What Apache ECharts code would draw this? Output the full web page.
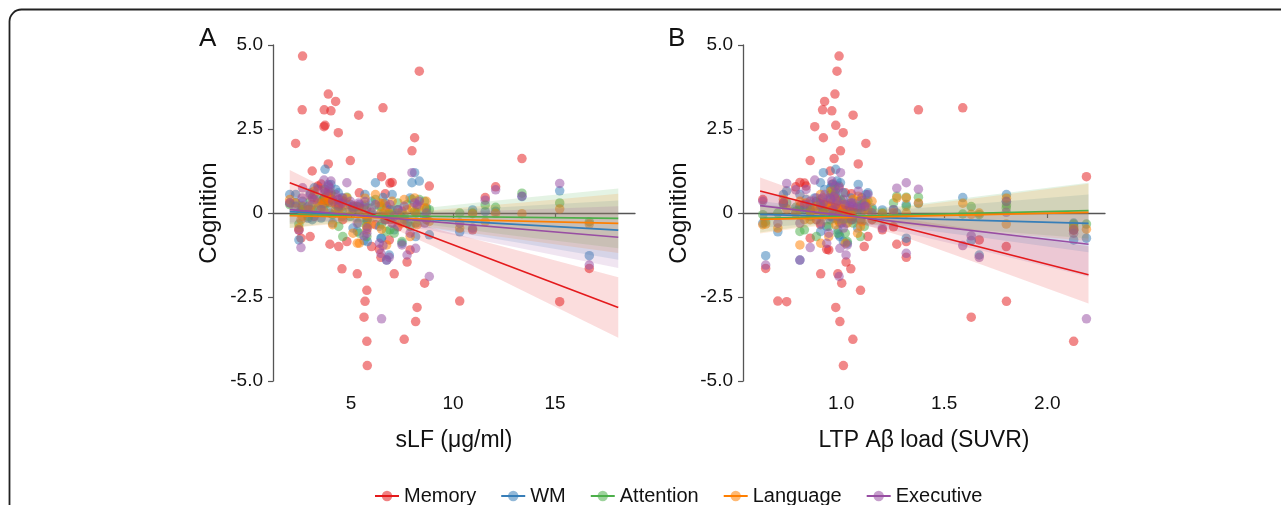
<!DOCTYPE html>
<html>
<head>
<meta charset="utf-8">
<script src="https://cdn.jsdelivr.net/npm/echarts@6/dist/echarts.min.js"></script>
<style>
html,body{margin:0;padding:0;background:#fff;}
#chart{width:1281px;height:505px;}
</style>
</head>
<body>
<div id="chart"></div>
<script>
// ---- Data (one entry per subject) ----
const slf = [2.63,8.35,3.89,4.25,6.57,2.61,3.69,4.02,5.38,3.73,3.68,4.38,8.12,2.29,7.99,13.38,4.97,3.89,3.10,6.50,
  6.91,7.02,8.84,12.09,11.58,3.38,3.54,5.41,6.68,2.45,2.55,3.97,4.40,4.56,5.31,5.78,5.69,5.64,5.78,5.80,
  6.01,6.39,6.47,7.12,7.75,7.61,8.17,8.24,8.61,10.33,15.23,16.68,6.88,7.90,3.00,4.80,7.30,10.96,2.00,2.90,
  4.60,5.10,6.20,7.50,8.70,4.10,6.75,3.20];
const suvr = [0.99,0.98,0.97,0.92,1.59,0.91,1.375,0.955,1.058,0.974,0.872,1.010,0.914,1.12,0.997,0.966,0.850,1.083,0.947,2.19,
  0.822,0.80,0.99,0.78,1.10,0.83,0.96,1.02,1.05,2.128,0.85,1.27,1.112,1.047,0.901,1.094,1.802,1.631,2.128,1.011,
  1.801,0.93,1.316,0.984,1.024,1.057,0.994,0.974,1.003,0.693,0.736,0.634,1.67,0.94,1.13,1.316,1.254,1.20,0.72,1.04,
  0.88,1.08,0.90,1.03,1.15,0.62,0.80,0.95];
const memory = [4.67,4.22,3.54,3.32,3.13,3.07,3.07,3.04,2.91,2.61,2.57,2.39,2.24,2.07,1.85,1.62,1.56,1.46,1.25,1.08,
  0.89,0.91,0.80,0.78,0.46,0.80,0.86,0.60,0.57,-0.51,-0.75,-0.93,-1.00,-1.66,-1.81,-2.30,-2.63,-3.10,-3.82,-4.54,
  -1.00,-1.08,-1.32,-1.81,-1.46,-3.76,-3.23,-2.81,-2.09,-2.62,-2.64,-1.65,-0.80,-1.10,-0.70,-0.85,-0.41,-0.50,0.30,0.10,
  -0.20,0.20,-0.35,0.05,-0.20,0.40,0.20,-0.10];
const wm = [0.35,0.95,0.55,0.70,0.46,0.20,0.28,0.85,0.10,1.30,0.45,0.60,1.20,0.55,0.90,0.49,0.25,0.85,-0.20,-0.75,
  0.10,0.55,-0.65,0.05,0.04,0.40,-0.15,0.20,0.30,-0.80,0.10,0.00,0.30,0.45,-0.55,-0.20,0.55,-0.82,-0.30,-0.85,
  0.35,-0.40,-0.75,-0.50,-0.30,-0.20,-0.70,0.20,-0.10,-0.56,0.66,-1.27,-1.25,0.45,0.60,0.25,0.10,0.09,0.55,-0.15,
  0.35,-0.45,0.90,-0.90,0.15,-0.30,-1.40,0.75];
const attention = [0.10,0.40,0.30,0.25,-0.03,0.05,0.47,0.60,-0.30,0.70,0.20,0.15,0.05,0.30,0.40,0.59,-0.10,0.35,0.10,-0.33,
  -0.50,0.10,0.10,0.17,0.24,0.15,0.35,-0.60,-0.20,-0.33,0.05,0.50,-0.40,0.05,0.20,-0.70,0.24,0.19,-0.40,-0.20,
  0.15,0.20,0.20,-0.60,0.25,-0.10,-0.30,0.00,0.35,0.00,0.30,-0.26,-0.05,-0.40,0.35,0.47,0.30,0.00,0.25,-0.10,
  -0.70,0.10,0.40,-0.85,0.10,-0.05,-0.55,0.55];
const language = [0.20,0.20,0.45,0.10,0.29,-0.10,0.30,0.30,0.10,0.40,0.05,0.25,0.45,0.30,0.15,-0.02,0.05,0.50,0.25,-0.48,
  -0.20,0.35,-0.25,-0.01,-0.26,0.30,0.20,-0.90,0.05,-0.45,-0.20,0.45,0.10,-0.10,-0.90,-0.40,0.44,-0.04,-0.50,-0.10,
  -0.33,0.30,0.00,-0.20,0.10,0.40,0.00,-0.35,0.15,-0.45,0.12,-0.33,0.00,-0.70,0.10,0.45,0.00,-0.02,0.40,0.10,
  0.20,-0.60,0.55,-0.30,0.35,-0.35,-0.95,0.65];
const executive = [0.75,0.35,0.80,0.55,-0.97,0.45,0.71,0.95,0.30,0.60,0.98,0.40,0.30,0.20,1.20,0.50,0.35,0.65,0.45,-3.15,
  0.25,-0.30,-1.89,0.69,0.38,0.70,0.10,0.25,-0.20,-0.50,-1.03,0.74,0.20,0.30,-0.30,0.15,0.34,-0.68,-0.60,-0.45,
  0.02,-0.90,-1.20,-0.10,-1.25,0.20,-1.05,0.25,-0.30,-0.30,0.88,-1.55,-1.32,-0.60,0.55,0.90,0.10,-0.45,0.30,0.20,
  0.45,0.15,0.25,-0.95,0.00,0.35,-1.40,0.40];

const domains = ['Memory','WM','Attention','Language','Executive'];
const colors = ['#E41A1C','#377EB8','#4DAF4A','#FF7F00','#984EA3'];
const scores = [memory, wm, attention, language, executive];

// fitted lines (y at the two ends of the x range)
const fitA_x = [2.0, 18.1];
const fitA_start = [0.90, 0.04, -0.05, -0.08, 0.10];
const fitA_end = [-2.81, -0.51, -0.16, -0.31, -0.72];
const fitB_x = [0.607, 2.2];
const fitB_start = [0.655, -0.04, -0.16, -0.19, 0.22];
const fitB_end = [-1.84, -0.31, 0.07, 0.02, -0.93];

// confidence band half-widths
const bandA_x = [2.0, 3.5, 5, 6.3, 9, 13, 18.1];
const bandA_hw = [
  [0.38,0.27,0.19,0.16,0.27,0.55,0.90],
  [0.37,0.26,0.18,0.15,0.26,0.53,0.88],
  [0.40,0.28,0.19,0.15,0.27,0.55,0.89],
  [0.37,0.26,0.18,0.15,0.26,0.53,0.88],
  [0.38,0.27,0.19,0.16,0.27,0.55,0.92]
];
const bandB_x = [0.607, 0.8, 0.95, 1.05, 1.3, 1.7, 2.2];
const bandB_hw = [
  [0.40,0.28,0.21,0.20,0.27,0.52,0.85],
  [0.40,0.28,0.21,0.20,0.27,0.52,0.86],
  [0.42,0.28,0.21,0.20,0.27,0.52,0.83],
  [0.42,0.28,0.21,0.20,0.27,0.52,0.85],
  [0.44,0.30,0.22,0.20,0.29,0.58,0.97]
];

const yTicks = [-5, -2.5, 0, 2.5, 5];
const xTicksA = [5, 10, 15];
const xTicksB = [1.0, 1.5, 2.0];

// ---- Build chart ----
const FONT = "'Liberation Sans', Arial, sans-serif";
const axisCol = '#555';
function hexA(hex, a){
  const r=parseInt(hex.slice(1,3),16), g=parseInt(hex.slice(3,5),16), b=parseInt(hex.slice(5,7),16);
  return 'rgba('+r+','+g+','+b+','+a+')';
}
function lineAt(x, x0, x1, y0, y1){ return y0 + (y1 - y0) * (x - x0) / (x1 - x0); }

const series = [];
const panels = [
  {xs: slf, fx: fitA_x, fs: fitA_start, fe: fitA_end, bx: bandA_x, bh: bandA_hw},
  {xs: suvr, fx: fitB_x, fs: fitB_start, fe: fitB_end, bx: bandB_x, bh: bandB_hw}
];
// lines first (legend icon source)
panels.forEach((p, pi) => {
  domains.forEach((d, di) => {
    series.push({
      name: d, type: 'line', xAxisIndex: pi, yAxisIndex: pi,
      data: [[p.fx[0], p.fs[di]], [p.fx[1], p.fe[di]]],
      showSymbol: false, symbol: 'circle', symbolSize: 9,
      itemStyle: {color: colors[di], opacity: 0.55},
      lineStyle: {color: colors[di], width: 1.6},
      z: 5, silent: true, animation: false
    });
  });
});
panels.forEach((p, pi) => {
  domains.forEach((d, di) => {
    series.push({
      name: d, type: 'scatter', xAxisIndex: pi, yAxisIndex: pi,
      data: p.xs.map((x, i) => [x, scores[di][i]]),
      symbol: 'circle', symbolSize: 9.5,
      itemStyle: {color: colors[di], opacity: 0.52},
      z: 2, animation: false
    });
  });
});
panels.forEach((p, pi) => {
  domains.forEach((d, di) => {
    const bx = p.bx, hw = p.bh[di];
    series.push({
      name: d, type: 'custom', xAxisIndex: pi, yAxisIndex: pi,
      data: [[bx[0], 0]], z: 3, silent: true, animation: false,
      renderItem: function(params, api){
        const up = [], lo = [];
        bx.forEach((x, k) => {
          const c = lineAt(x, p.fx[0], p.fx[1], p.fs[di], p.fe[di]);
          up.push(api.coord([x, c + hw[k]]));
          lo.push(api.coord([x, c - hw[k]]));
        });
        return {type: 'polygon', shape: {points: up.concat(lo.reverse())},
          style: {fill: hexA(colors[di], 0.15)}};
      }
    });
  });
});

function xAxis(gi, min, max, ticks, name){
  return {
    type: 'value', gridIndex: gi, min: min, max: max,
    axisLine: {show: true, lineStyle: {color: axisCol, width: 1.3}},
    axisTick: {show: true, length: 5, customValues: ticks, lineStyle: {color: axisCol, width: 1.2}},
    axisLabel: {customValues: ticks, fontSize: 19, color: '#111', fontFamily: FONT, margin: 13,
      formatter: v => (gi === 0 ? String(v) : v.toFixed(1))},
    splitLine: {show: false},
    name: name, nameLocation: 'middle', nameGap: 48,
    nameTextStyle: {fontSize: 23, color: '#111', fontFamily: FONT}
  };
}
function yAxis(gi){
  return {
    type: 'value', gridIndex: gi, min: -5, max: 5, interval: 2.5,
    axisLine: {show: true, lineStyle: {color: axisCol, width: 1.3}},
    axisTick: {show: true, length: 5, lineStyle: {color: axisCol, width: 1.2}},
    axisLabel: {fontSize: 19, color: '#111', fontFamily: FONT, margin: 10,
      formatter: v => (v === 0 ? '0' : v.toFixed(1))},
    splitLine: {show: false},
    name: 'Cognition', nameLocation: 'middle', nameGap: 52,
    nameTextStyle: {fontSize: 24, color: '#111', fontFamily: FONT}
  };
}

const chart = echarts.init(document.getElementById('chart'), null, {renderer: 'canvas'});
chart.setOption({
  backgroundColor: '#fff',
  animation: false,
  grid: [
    {left: 273, top: 45, width: 362, height: 336, outerBoundsMode: 'none', containLabel: false},
    {left: 743, top: 45, width: 362, height: 336, outerBoundsMode: 'none', containLabel: false}
  ],
  xAxis: [xAxis(0, 1.18, 18.92, xTicksA, 'sLF (μg/ml)'), xAxis(1, 0.524, 2.28, xTicksB, 'LTP Aβ load (SUVR)')],
  yAxis: [yAxis(0), yAxis(1)],
  legend: {
    data: domains, left: 369, top: 481, itemWidth: 24, itemHeight: 13, itemGap: 24,
    textStyle: {fontSize: 20, color: '#111', fontFamily: FONT}
  },
  graphic: [
    {type: 'rect', shape: {x: 9.5, y: 9.5, width: 1300, height: 540, r: 12},
      style: {fill: 'none', stroke: '#222', lineWidth: 1.8}, silent: true},
    {type: 'text', left: 199, top: 26, style: {text: 'A', fontSize: 26, fill: '#111', fontFamily: FONT}},
    {type: 'text', left: 668, top: 26, style: {text: 'B', fontSize: 26, fill: '#111', fontFamily: FONT}}
  ],
  series: series
});
</script>
</body>
</html>
